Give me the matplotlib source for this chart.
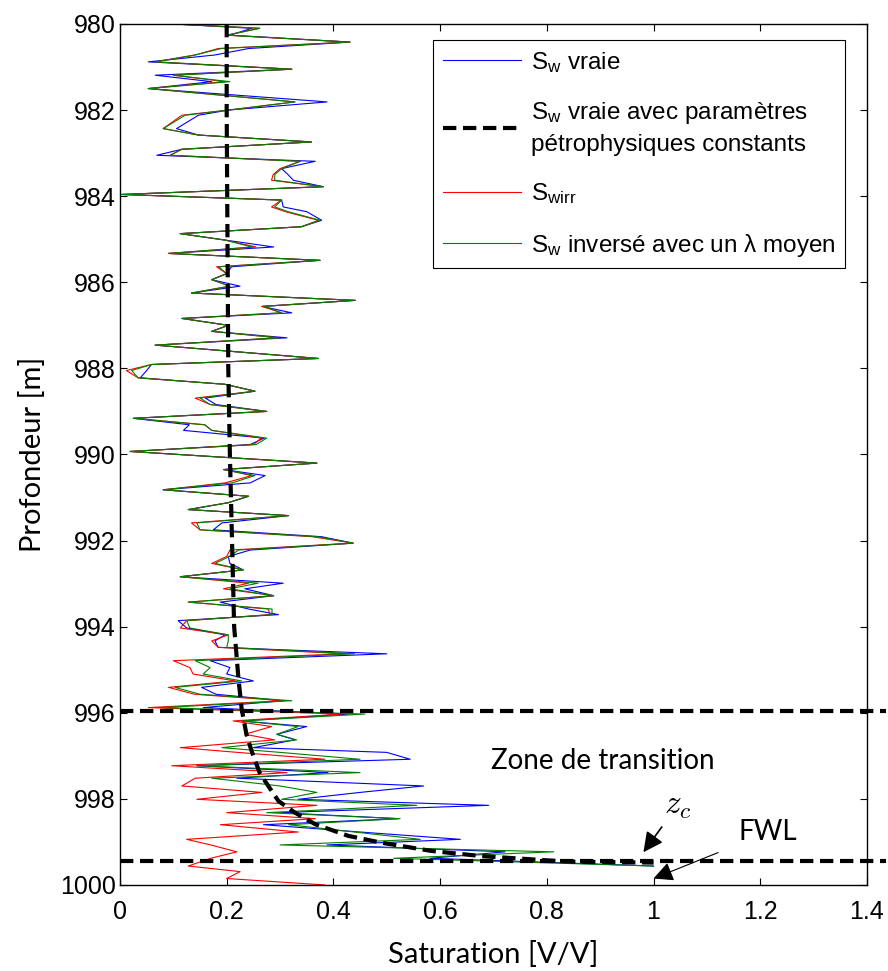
import numpy as np
import matplotlib
matplotlib.use('Agg')
import matplotlib.pyplot as plt

plt.rcParams['font.family'] = ['Liberation Sans', 'DejaVu Sans']
plt.rcParams['mathtext.fontset'] = 'custom'
plt.rcParams['mathtext.rm'] = 'Liberation Sans'
plt.rcParams['mathtext.it'] = 'Liberation Sans'

nan = np.nan

# depth [m] of the log samples
depth = [980.00, 980.10, 980.26, 980.42, 980.57, 980.72, 980.88, 981.05, 981.19, 981.34,
         981.50, 981.81, 982.00, 982.12, 982.43, 982.58, 982.74, 982.91, 983.05, 983.19,
         983.36, 983.50, 983.63, 983.78, 983.96, 984.09, 984.25, 984.36, 984.56, 984.71,
         984.87, 985.02, 985.18, 985.33, 985.49, 985.64, 985.80, 985.94, 986.09, 986.25,
         986.42, 986.56, 986.71, 986.84, 987.00, 987.14, 987.29, 987.46, 987.77, 987.91,
         988.05, 988.22, 988.37, 988.53, 988.69, 988.84, 989.00, 989.16, 989.31, 989.44,
         989.62, 989.77, 989.93, 990.20, 990.35, 990.49, 990.66, 990.82, 990.97, 991.12,
         991.28, 991.42, 991.59, 991.75, 991.91, 992.06, 992.22, 992.37, 992.53, 992.68,
         992.84, 992.99, 993.12, 993.28, 993.43, 993.59, 993.72, 993.86, 994.03, 994.19,
         994.33, 994.48, 994.63, 994.79, 994.95, 995.10, 995.26, 995.41, 995.57, 995.72,
         995.88, 996.03, 996.19, 996.32, 996.50, 996.63, 996.81, 996.92, 997.08, 997.23,
         997.39, 997.52, 997.70, 997.85, 998.01, 998.15, 998.32, 998.46, 998.60, 998.77,
         998.94, 999.07, 999.23, 999.38, 999.56, 999.69, 999.85, 1000.0]

# Sw vraie (blue)
sw_true = [0.100, 0.247, 0.206, 0.431, 0.241, 0.178, 0.053, 0.322, 0.066, 0.172,
           0.053, 0.388, 0.203, 0.147, 0.106, 0.147, 0.359, 0.116, 0.069, 0.366,
           0.303, 0.315, 0.325, 0.381, 0.003, 0.303, 0.306, 0.350, 0.378, 0.340,
           0.113, 0.197, 0.288, 0.091, 0.375, 0.209, 0.200, 0.172, 0.225, 0.134,
           0.441, 0.266, 0.322, 0.116, 0.203, 0.172, 0.313, 0.066, 0.372, 0.059,
           0.050, 0.038, 0.197, 0.253, 0.160, 0.180, 0.275, 0.025, 0.130, 0.119,
           0.270, 0.244, 0.019, 0.369, 0.194, 0.272, 0.244, 0.081, 0.241, 0.203,
           0.128, 0.316, 0.191, 0.175, 0.378, 0.437, 0.244, 0.203, 0.206, 0.231,
           0.113, 0.306, 0.234, 0.288, 0.188, 0.241, 0.297, 0.109, 0.125, 0.197,
           0.178, 0.184, 0.500, 0.169, 0.206, 0.200, 0.250, 0.153, 0.180, 0.306,
           0.156, 0.428, 0.228, 0.350, 0.294, 0.328, 0.250, 0.500, 0.544, 0.144,
           0.390, 0.219, 0.569, 0.450, 0.334, 0.691, 0.297, 0.522, 0.269, 0.450,
           0.638, 0.388, 0.722, 0.581, 1.000, nan, nan, nan]

# Swirr (red)
swirr = [0.100, 0.262, 0.200, 0.431, 0.184, 0.141, 0.066, 0.322, 0.100, 0.197,
         0.053, 0.328, 0.203, 0.116, 0.081, 0.147, 0.359, 0.116, 0.094, 0.338,
         0.300, 0.287, 0.284, 0.381, 0.003, 0.303, 0.284, 0.310, 0.372, 0.340,
         0.113, 0.197, 0.255, 0.091, 0.375, 0.181, 0.200, 0.172, 0.206, 0.134,
         0.441, 0.266, 0.303, 0.116, 0.203, 0.172, 0.297, 0.066, 0.372, 0.059,
         0.012, 0.034, 0.197, 0.253, 0.141, 0.169, 0.275, 0.025, 0.159, 0.172,
         0.265, 0.250, 0.019, 0.369, 0.194, 0.247, 0.197, 0.081, 0.241, 0.203,
         0.128, 0.316, 0.134, 0.150, 0.360, 0.437, 0.206, 0.200, 0.172, 0.231,
         0.113, 0.241, 0.194, 0.288, 0.128, 0.278, 0.281, 0.125, 0.113, 0.203,
         0.172, 0.184, 0.422, 0.100, 0.131, 0.137, 0.216, 0.091, 0.140, 0.306,
         0.053, 0.416, 0.212, 0.284, 0.234, 0.290, 0.113, 0.220, 0.384, 0.097,
         0.313, 0.141, 0.116, 0.266, 0.144, 0.369, 0.200, 0.366, 0.188, 0.334,
         0.125, 0.170, 0.219, 0.170, 0.128, 0.225, 0.200, 0.384]

# Sw inverse avec un lambda moyen (green)
sw_inv = [0.100, 0.262, 0.200, 0.431, 0.190, 0.141, 0.066, 0.322, 0.100, 0.206,
          0.053, 0.328, 0.203, 0.122, 0.081, 0.147, 0.359, 0.116, 0.094, 0.338,
          0.303, 0.290, 0.290, 0.381, 0.003, 0.303, 0.290, 0.315, 0.375, 0.340,
          0.113, 0.197, 0.247, 0.091, 0.375, 0.185, 0.200, 0.172, 0.206, 0.134,
          0.441, 0.270, 0.303, 0.116, 0.203, 0.172, 0.297, 0.066, 0.372, 0.059,
          0.022, 0.034, 0.197, 0.253, 0.150, 0.169, 0.275, 0.025, 0.159, 0.172,
          0.275, 0.255, 0.019, 0.369, 0.194, 0.253, 0.210, 0.081, 0.241, 0.203,
          0.128, 0.316, 0.144, 0.150, 0.370, 0.437, 0.222, 0.205, 0.178, 0.231,
          0.113, 0.259, 0.206, 0.288, 0.128, 0.285, 0.285, 0.125, 0.131, 0.203,
          0.203, 0.200, 0.440, 0.141, 0.169, 0.156, 0.228, 0.103, 0.150, 0.322,
          0.078, 0.459, 0.228, 0.334, 0.294, 0.331, 0.191, 0.300, 0.450, 0.144,
          0.450, 0.172, 0.300, 0.369, 0.303, 0.556, 0.275, 0.525, 0.316, 0.440,
          0.563, 0.300, 0.813, 0.513, 1.000, nan, nan, nan]

# Sw vraie avec parametres petrophysiques constants (black dashed)
depth_const = [980.0, 982.0, 984.0, 986.0, 988.0, 990.0, 992.0, 994.0, 995.2, 995.9,
               996.5, 996.9, 997.4, 997.7, 998.05, 998.32, 998.59, 998.86, 999.02, 999.21,
               999.33, 999.43, 999.46, 999.48]
sw_const = [0.200, 0.200, 0.201, 0.202, 0.203, 0.206, 0.210, 0.214, 0.222, 0.228,
            0.237, 0.247, 0.262, 0.278, 0.297, 0.328, 0.366, 0.428, 0.491, 0.584,
            0.678, 0.803, 0.853, 1.000]

top_transition = 995.95
fwl_depth = 999.45

fig = plt.figure(figsize=(8.88, 9.71), dpi=100)
ax = fig.add_axes([0.1351, 0.0886, 0.8412, 0.8867])

ax.plot(sw_true, depth, color='#0000ff', lw=0.8, label=r'$\mathregular{S_w}$ vraie')
ax.plot(sw_const, depth_const, color='k', lw=3, dashes=(3.2, 1.6), zorder=4,
        label='$\\mathregular{S_w}$ vraie avec paramètres\npétrophysiques constants')
ax.plot(swirr, depth, color='#ff0000', lw=0.8, label=r'$\mathregular{S_{wirr}}$')
ax.plot(sw_inv, depth, color='#008000', lw=0.8,
        label=r'$\mathregular{S_w}$ inversé avec un λ moyen')

# limits of the transition zone, drawn past the right edge
for yy in [top_transition, fwl_depth]:
    ax.plot([0, 1.435], [yy, yy], color='k', lw=3, dashes=(3.2, 1.6), clip_on=False, zorder=5)

ax.set_xlim(0, 1.4)
ax.set_ylim(1000, 980)
ax.set_xticks(np.arange(0, 1.41, 0.2))
ax.set_xticklabels(['0', '0.2', '0.4', '0.6', '0.8', '1', '1.2', '1.4'])
ax.set_yticks(np.arange(980, 1001, 2))
ax.tick_params(direction='in', top=True, right=True, length=5, width=0.8, labelsize=18)
ax.tick_params(axis='x', pad=11)
ax.tick_params(axis='y', pad=3)
for s in ax.spines.values():
    s.set_linewidth(1.0)

ax.set_xlabel('Saturation [V/V]', family='Lato', fontsize=21, labelpad=12)
ax.set_ylabel('Profondeur [m]', family='Lato', fontsize=21, labelpad=10)

ax.text(0.905, 997.12, 'Zone de transition', family='Lato', fontsize=20,
        ha='center', va='center')

ax.annotate('$z_c$', xy=(0.981, 999.24), xytext=(1.045, 998.15), fontsize=24,
            math_fontfamily='cm', ha='center', va='center',
            arrowprops=dict(arrowstyle='-|>', color='k', lw=1.2, mutation_scale=30,
                            shrinkA=3, shrinkB=0))
ax.annotate('FWL', xy=(1.0, 999.85), xytext=(1.215, 998.78), family='Lato', fontsize=20,
            ha='center', va='center',
            arrowprops=dict(arrowstyle='-|>', color='k', lw=0.8, mutation_scale=30,
                            shrinkA=14, shrinkB=0))

leg = ax.legend(loc='upper right', bbox_to_anchor=(0.9705, 0.9814), borderaxespad=0,
                fontsize=17.5, handlelength=3.2, handletextpad=0.4, labelspacing=1.05,
                borderpad=0.4, fancybox=False, framealpha=1, edgecolor='k')
leg.get_frame().set_linewidth(0.8)
leg.get_texts()[1].set_linespacing(1.45)

fig.savefig('out.png', dpi=100)
